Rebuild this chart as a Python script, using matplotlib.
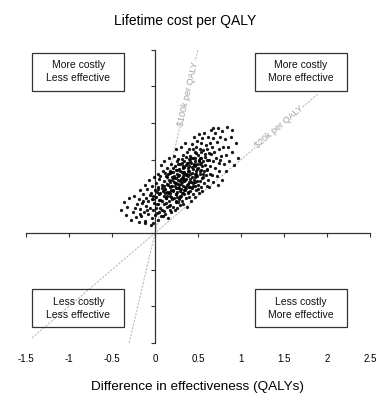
import matplotlib
matplotlib.use("Agg")
import matplotlib.pyplot as plt
from matplotlib.patches import Rectangle
import numpy as np

plt.rcParams['font.family'] = ['Liberation Sans', 'DejaVu Sans']

# difference in effectiveness (QALYs) and difference in cost ($10k) per simulation
d_qaly = [
    -0.39, -0.36, -0.34, -0.32, -0.30, -0.28, -0.26, -0.24, -0.22, -0.21,
    -0.19, -0.19, -0.18, -0.17, -0.16, -0.15, -0.14, -0.13, -0.12, -0.12,
    -0.11, -0.10, -0.09, -0.08, -0.08, -0.07, -0.06, -0.05, -0.04, -0.04,
    -0.03, -0.02, -0.02, -0.01, -0.01, 0.00, 0.00, -0.05,
    0.01, 0.01, 0.02, 0.02, 0.03, 0.03, 0.04, 0.04, 0.05, 0.05,
    0.06, 0.06, 0.07, 0.07, 0.08, 0.08, 0.09, 0.09, 0.10, 0.10,
    0.10, 0.11, 0.11, 0.12, 0.12, 0.13, 0.13, 0.14, 0.14, 0.14,
    0.15, 0.15, 0.16, 0.16, 0.16, 0.17, 0.17, 0.17, 0.18, 0.18,
    0.18, 0.19, 0.19, 0.19, 0.20, 0.20, 0.20, 0.05, 0.08, 0.12,
    0.15, 0.11, 0.13, 0.18, 0.02, 0.09, 0.16, 0.06, 0.14, 0.19,
    0.21, 0.21, 0.21, 0.22, 0.22, 0.22, 0.23, 0.23, 0.23, 0.24,
    0.24, 0.24, 0.25, 0.25, 0.25, 0.26, 0.26, 0.26, 0.27, 0.27,
    0.27, 0.28, 0.28, 0.28, 0.29, 0.29, 0.29, 0.30, 0.30, 0.30,
    0.31, 0.31, 0.31, 0.32, 0.32, 0.32, 0.33, 0.33, 0.33, 0.34,
    0.34, 0.34, 0.35, 0.35, 0.35, 0.36, 0.36, 0.36, 0.37, 0.37,
    0.37, 0.38, 0.38, 0.38, 0.39, 0.39, 0.39, 0.40, 0.40, 0.40,
    0.22, 0.24, 0.26, 0.28, 0.30, 0.32, 0.34, 0.36, 0.38, 0.25,
    0.29, 0.33, 0.37, 0.27, 0.31,
    0.41, 0.41, 0.41, 0.42, 0.42, 0.42, 0.43, 0.43, 0.43, 0.44,
    0.44, 0.44, 0.45, 0.45, 0.45, 0.46, 0.46, 0.46, 0.47, 0.47,
    0.47, 0.48, 0.48, 0.48, 0.49, 0.49, 0.49, 0.50, 0.50, 0.50,
    0.51, 0.51, 0.51, 0.52, 0.52, 0.52, 0.53, 0.53, 0.53, 0.54,
    0.54, 0.55, 0.55, 0.55, 0.56, 0.56, 0.57, 0.57, 0.57, 0.58,
    0.58, 0.59, 0.59, 0.60, 0.60, 0.44, 0.48, 0.52, 0.56, 0.46,
    0.61, 0.61, 0.62, 0.62, 0.63, 0.63, 0.64, 0.64, 0.65, 0.65,
    0.66, 0.66, 0.67, 0.68, 0.68, 0.69, 0.70, 0.70, 0.71, 0.72,
    0.72, 0.73, 0.74, 0.75, 0.75, 0.76, 0.77, 0.78, 0.78, 0.79,
    0.80, 0.67, 0.73, 0.76, 0.64,
    0.81, 0.82, 0.83, 0.84, 0.85, 0.86, 0.88, 0.89, 0.90, 0.92, 0.94, 0.96,
]
d_cost = [
    0.62, 0.85, 0.48, 0.71, 0.95, 0.36, 0.58, 1.02, 0.44, 0.80,
    0.30, 0.92, 0.66, 1.18, 0.45, 0.82, 1.05, 0.58, 1.32, 0.27,
    0.74, 0.96, 1.21, 0.52, 0.88, 1.45, 0.69, 1.10, 0.40, 0.93,
    1.28, 0.63, 1.02, 0.81, 1.52, 0.49, 1.16, 0.22,
    0.98, 1.37, 0.55, 1.12, 0.80, 1.62, 0.36, 1.25, 0.91, 1.48,
    0.67, 1.08, 1.85, 0.47, 1.30, 0.88, 1.15, 1.70, 0.60, 1.02,
    1.42, 0.79, 1.96, 1.21, 0.52, 1.56, 0.95, 1.34, 0.70, 1.78,
    1.10, 0.41, 1.45, 0.86, 2.05, 1.25, 0.63, 1.64, 1.00, 1.38,
    0.77, 1.88, 1.16, 0.56, 1.52, 0.92, 1.29, 1.05, 0.62, 1.08,
    1.62, 1.18, 0.83, 1.70, 0.78, 0.45, 1.12, 1.55, 1.02, 0.98,
    1.18, 0.70, 1.66, 1.40, 2.10, 0.95, 1.28, 0.62, 1.82, 1.50,
    1.05, 2.28, 0.84, 1.35, 1.72, 1.12, 1.96, 0.68, 1.45, 1.22,
    2.02, 0.92, 1.58, 1.30, 1.88, 1.02, 0.75, 1.48, 2.35, 1.20,
    1.65, 0.88, 1.38, 2.12, 1.10, 1.55, 0.80, 1.76, 1.28, 1.95,
    1.42, 1.05, 2.45, 1.60, 1.18, 0.95, 1.85, 1.48, 1.32, 2.20,
    0.72, 1.70, 1.12, 1.56, 2.02, 1.25, 0.98, 1.82, 1.40, 2.30,
    1.55, 1.22, 1.60, 1.75, 1.02, 1.82, 1.66, 1.22, 1.92, 1.05,
    1.42, 1.50, 1.62, 0.85, 2.02,
    1.15, 1.62, 2.10, 1.38, 0.88, 1.90, 1.52, 2.42, 1.22, 1.75,
    1.05, 2.05, 1.45, 2.62, 1.85, 1.28, 2.20, 1.62, 0.98, 1.95,
    1.40, 2.35, 1.70, 1.18, 1.88, 2.52, 1.55, 1.32, 2.12, 1.78,
    1.08, 1.98, 2.70, 1.62, 2.28, 1.42, 1.90, 1.25, 2.45, 1.72,
    2.05, 1.50, 2.58, 1.15, 1.95, 2.25, 1.68, 1.35, 2.72, 1.85,
    2.15, 1.58, 2.40, 1.98, 1.28, 1.35, 1.58, 1.88, 1.62, 1.82,
    1.72, 2.30, 1.45, 2.62, 2.00, 1.25, 2.45, 1.82, 2.15, 2.80,
    1.58, 2.35, 1.95, 2.58, 1.38, 2.20, 1.78, 2.72, 2.05, 1.55,
    2.48, 2.85, 1.92, 2.30, 1.68, 2.62, 2.10, 1.45, 2.78, 2.35,
    1.88, 2.85, 1.30, 2.00, 1.60,
    2.55, 2.12, 1.70, 2.88, 2.35, 1.95, 2.62, 2.20, 2.80, 1.85, 2.45, 2.05,
]

# extra simulations in the dense core of the cloud
core_qaly = [
    0.083, 0.127, 0.154, 0.176, 0.198, 0.213, 0.237, 0.252, 0.268, 0.281,
    0.296, 0.305, 0.318, 0.327, 0.341, 0.352, 0.366, 0.374, 0.389, 0.397,
    0.408, 0.419, 0.426, 0.437, 0.451, 0.463, 0.472, 0.486, 0.493, 0.507,
    0.518, 0.534, 0.546, 0.212, 0.243, 0.264, 0.287, 0.312, 0.336, 0.358,
    0.143, 0.167, 0.191, 0.104, 0.062, 0.036, 0.118, 0.226, 0.273, 0.349,
    0.383, 0.412, 0.445, 0.478, 0.503, 0.527, 0.562, 0.586, 0.603, 0.624,
    0.015, -0.027, -0.063, -0.094, -0.138, -0.176, -0.238, 0.043, -0.112, -0.023,
    0.292, 0.322, 0.256, 0.184, 0.139, 0.403, 0.436, 0.461, 0.382, 0.315,
]
core_cost = [
    1.213, 0.962, 1.318, 1.087, 1.442, 1.156, 1.371, 0.994, 1.563, 1.224,
    1.687, 1.341, 1.082, 1.476, 1.795, 1.262, 1.588, 1.913, 1.347, 1.702,
    1.481, 2.034, 1.648, 1.293, 1.876, 1.532, 2.168, 1.757, 1.412, 1.963,
    1.685, 2.214, 1.823, 1.783, 0.873, 1.894, 0.968, 1.918, 1.167, 2.082,
    1.527, 0.724, 1.651, 1.284, 0.893, 1.196, 1.637, 1.489, 1.341, 1.432,
    1.083, 1.247, 2.298, 1.603, 1.198, 2.047, 1.527, 2.063, 1.742, 2.186,
    0.672, 0.913, 1.042, 0.634, 0.872, 0.514, 0.687, 0.562, 0.318, 0.284,
    1.143, 1.638, 1.724, 1.268, 1.112, 1.958, 1.803, 2.047, 1.784, 1.502,
]

x_ticks = [-1.5, -1, -0.5, 0, 0.5, 1, 1.5, 2, 2.5]
x_tick_labels = ['-1.5', '-1', '-0.5', '0', '0.5', '1', '1.5', '2', '2.5']
cost_ticks = [-3, -2, -1, 0, 1, 2, 3, 4, 5]

# willingness-to-pay lines ($k per QALY, cost axis is in $10k)
wtp = [100, 20]
wtp_labels = ['\\$100k per QALY', '\\$20k per QALY']
wtp_x_range = [(-0.30, 0.50), (-1.43, 1.90)]
wtp_label_x = [0.38, 1.44]

quadrants = ['More costly\nLess effective', 'More costly\nMore effective',
             'Less costly\nLess effective', 'Less costly\nMore effective']
quad_x = [-0.89, 1.695, -0.89, 1.695]
quad_y = [4.40, 4.40, -2.05, -2.05]

fig = plt.figure(figsize=(3.78, 3.96), dpi=100)
ax = fig.add_axes([0.0688, 0.1338, 0.910, 0.741])

for slope, (x0, x1), lab, lx in zip(wtp, wtp_x_range, wtp_labels, wtp_label_x):
    k = slope / 10.0
    ax.plot([x0, x1], [k * x0, k * x1], color='#bdbdbd', lw=0.8,
            ls=(0, (2, 1.2)), zorder=1)
    ax.text(lx, k * lx, lab, fontsize=6.5, color='#a0a0a0', ha='center', va='center',
            rotation=np.degrees(np.arctan(k)), rotation_mode='anchor',
            transform_rotates_text=True, zorder=2,
            bbox=dict(facecolor='white', edgecolor='none', pad=0.5))

ax.scatter(d_qaly + core_qaly, d_cost + core_cost, s=5.5, color='black',
           linewidths=0, alpha=0.9, zorder=3)

bw, bh = 1.07, 1.04
for txt, cx, cy in zip(quadrants, quad_x, quad_y):
    ax.add_patch(Rectangle((cx - bw / 2, cy - bh / 2), bw, bh, fill=False,
                           edgecolor='#333333', lw=0.9, zorder=4))
    ax.text(cx, cy, txt, fontsize=7.5, ha='center', va='center',
            linespacing=1.4, color='#111111', zorder=5)

ax.set_xlim(-1.5, 2.5)
ax.set_ylim(-3, 5)
for side in ['top', 'right']:
    ax.spines[side].set_visible(False)
ax.spines['left'].set_position(('data', 0))
ax.spines['bottom'].set_position(('data', 0))
for side in ['left', 'bottom']:
    ax.spines[side].set_color('#333333')
    ax.spines[side].set_linewidth(0.9)
ax.set_xticks(x_ticks)
ax.set_yticks(cost_ticks)
ax.tick_params(axis='both', direction='out', length=3, width=0.8,
               color='#333333', labelbottom=False, labelleft=False)

sec = ax.secondary_xaxis('bottom')
sec.spines['bottom'].set_visible(False)
sec.set_xticks(x_ticks)
sec.set_xticklabels(x_tick_labels)
sec.tick_params(length=0, pad=8, labelsize=7)
sec.set_xlabel('Difference in effectiveness (QALYs)', fontsize=9.7, labelpad=12)

fig.text(185 / 378, 1 - 21 / 396, 'Lifetime cost per QALY', fontsize=10,
         ha='center', va='center')

fig.savefig('out.png', dpi=100)
